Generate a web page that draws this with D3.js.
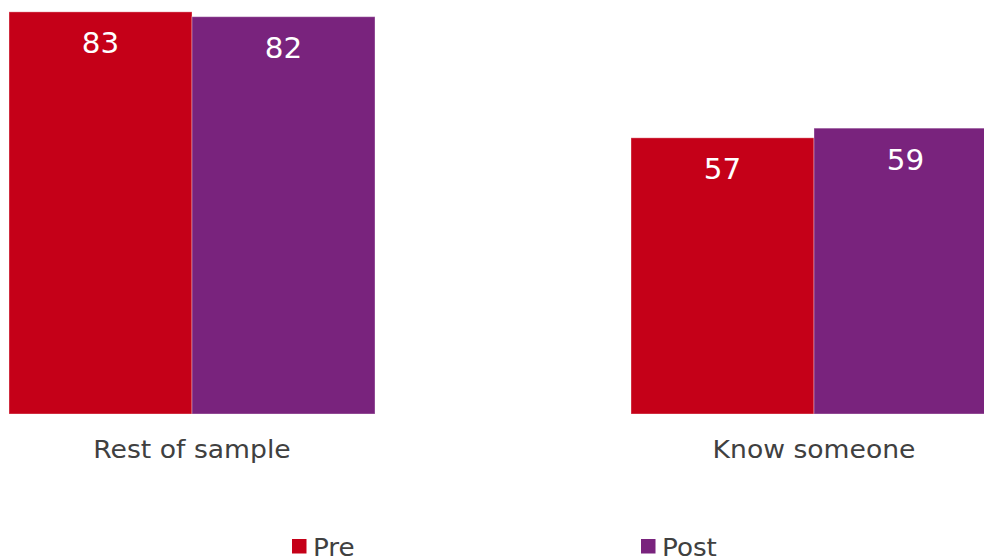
<!DOCTYPE html>
<html>
<head>
<meta charset="utf-8">
<script src="https://cdn.jsdelivr.net/npm/d3@7"></script>
<style>
  html, body { margin: 0; padding: 0; background: #ffffff; }
  svg { display: block; font-family: "DejaVu Sans", Verdana, sans-serif; }
</style>
</head>
<body>
<svg id="chart" width="984" height="559"></svg>
<script>
// Groups, series and their values
const categories = ["Rest of sample", "Know someone"];
const seriesNames = ["Pre", "Post"];
const preValues = [83, 57];
const postValues = [82, 59];
const seriesColors = ["#C50018", "#79237D"];

const width = 984, height = 559;
const svg = d3.select("#chart");

const rows = categories.map((c, i) => ({
  category: c,
  values: [
    { series: seriesNames[0], value: preValues[i] },
    { series: seriesNames[1], value: postValues[i] }
  ]
}));

// Group scale: the second group runs past the right edge and is clipped
const x0 = d3.scaleBand()
  .domain(categories)
  .range([-119, 1125])
  .paddingInner(0.4116)
  .paddingOuter(0.2058);

const x1 = d3.scaleBand()
  .domain(seriesNames)
  .range([0, x0.bandwidth()]);

const y = d3.scaleLinear()
  .domain([0, 100])
  .range([414, -70.5]);

const color = d3.scaleOrdinal().domain(seriesNames).range(seriesColors);

svg.append("defs").append("clipPath").attr("id", "plot-clip")
  .append("rect").attr("x", 0).attr("y", 0).attr("width", width).attr("height", height);

const plot = svg.append("g").attr("clip-path", "url(#plot-clip)");

const groups = plot.selectAll("g.group")
  .data(rows)
  .join("g")
  .attr("class", "group")
  .attr("transform", d => `translate(${x0(d.category)},0)`);

groups.selectAll("rect")
  .data(d => d.values)
  .join("rect")
  .attr("x", d => x1(d.series))
  .attr("y", d => y(d.value))
  .attr("width", x1.bandwidth())
  .attr("height", d => y(0) - y(d.value))
  .attr("fill", d => color(d.series))
  .attr("stroke", "rgba(255,255,255,0.35)")
  .attr("stroke-width", 1);

// Value labels inside the top of each bar, slightly widened
groups.selectAll("text.value")
  .data(d => d.values)
  .join("text")
  .attr("class", "value")
  .attr("transform", d => `translate(${x1(d.series) + x1.bandwidth() / 2},${y(d.value) + 41.5}) scale(1.05,1)`)
  .attr("text-anchor", "middle")
  .attr("fill", "#ffffff")
  .attr("font-size", 28)
  .text(d => d.value);

// Category axis labels (no axis line or ticks)
const xAxis = d3.axisBottom(x0).tickSize(0).tickPadding(0);
const axisG = svg.append("g")
  .attr("transform", "translate(0,414)")
  .call(xAxis);
axisG.select(".domain").remove();
axisG.selectAll("text")
  .attr("dy", 0)
  .attr("y", 44)
  .attr("transform", "scale(1.11,1)")
  .attr("font-family", "DejaVu Sans, Verdana, sans-serif")
  .attr("font-size", 24)
  .attr("fill", "#404040");

// Legend
const legendX = [292, 641];
const legend = svg.append("g")
  .selectAll("g")
  .data(seriesNames)
  .join("g")
  .attr("transform", (d, i) => `translate(${legendX[i]},539)`);

legend.append("rect")
  .attr("width", 14.5)
  .attr("height", 14.5)
  .attr("fill", d => color(d));

legend.append("text")
  .attr("transform", "translate(21,17) scale(1.05,1)")
  .attr("font-size", 25)
  .attr("fill", "#404040")
  .text(d => d);
</script>
</body>
</html>
